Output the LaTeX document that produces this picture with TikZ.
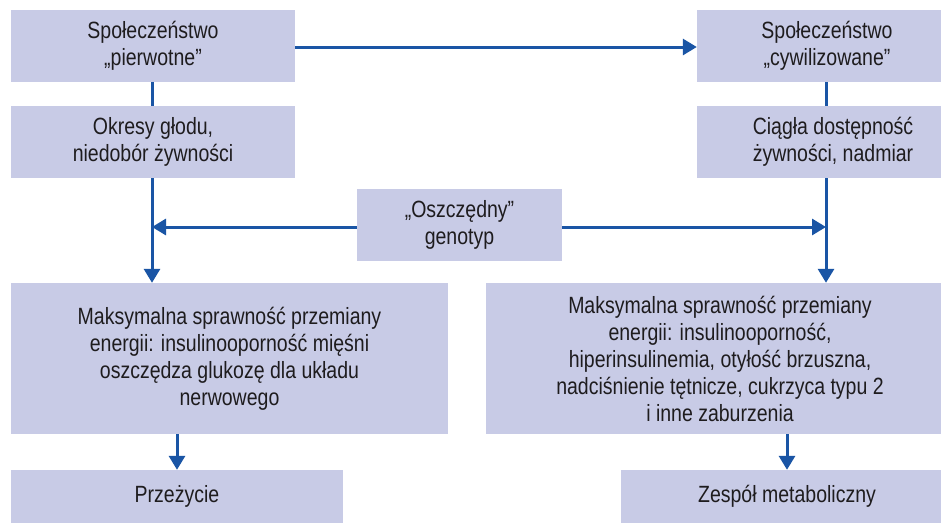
\documentclass[tikz,border=0pt]{standalone}
\usepackage{fontspec}
\setmainfont{Liberation Sans}[FakeStretch=0.83]
\usetikzlibrary{arrows.meta}
\definecolor{boxfill}{RGB}{200,203,230}
\definecolor{linkblue}{RGB}{26,85,165}
\definecolor{txt}{RGB}{30,28,30}
\tikzset{
  box/.style={fill=boxfill, draw=none, inner sep=0pt, align=center, text=txt,
    font=\fontsize{23.5}{27}\selectfont},
  link/.style={draw=linkblue, line width=3pt},
  arrowlink/.style={link, -{Triangle[width=16pt,length=14pt]}}
}
\begin{document}
\begin{tikzpicture}[x=1pt,y=-1pt]
\clip (0,0) rectangle (941,523);
\fill[white] (0,0) rectangle (941,523);
\node[box, minimum width=284pt, minimum height=72pt] (b1) at (153,46) {Społeczeństwo\\„pierwotne”};
\node[box, minimum width=260pt, minimum height=72pt] (b2) at (827,46) {Społeczeństwo\\„cywilizowane”};
\node[box, minimum width=284pt, minimum height=72pt] (b3) at (153,142) {Okresy głodu,\\niedobór żywności};
\node[box, minimum width=272pt, minimum height=72pt] (b4) at (833,142) {Ciągła dostępność\\żywności, nadmiar};
\node[box, minimum width=205pt, minimum height=72pt] (g) at (459.5,225) {„Oszczędny”\\genotyp};
\node[box, minimum width=437pt, minimum height=151pt] (b6) at (229.5,358.5) {Maksymalna sprawność przemiany\\energii: insulinooporność mięśni\\oszczędza glukozę dla układu\\nerwowego};
\node[box, minimum width=468pt, minimum height=151pt] (b7) at (720,358.5) {Maksymalna sprawność przemiany\\energii: insulinooporność,\\hiperinsulinemia, otyłość brzuszna,\\nadciśnienie tętnicze, cukrzyca typu 2\\i inne zaburzenia};
\node[box, minimum width=332pt, minimum height=53pt] (b8) at (177,496.5) {Przeżycie};
\node[box, minimum width=332pt, minimum height=53pt] (b9) at (787,496.5) {Zespół metaboliczny};
\coordinate (lx) at (152,0);
\coordinate (rx) at (826,0);
\draw[link] (b1.south -| lx) -- (b3.north -| lx);
\draw[arrowlink] (b3.south -| lx) -- (b6.north -| lx);
\draw[arrowlink] ([yshift=-1pt]b1.east) -- ([yshift=-1pt]b1.east -| b2.west);
\draw[link] (b2.south -| rx) -- (b4.north -| rx);
\draw[arrowlink] (b4.south -| rx) -- (b7.north -| rx);
\draw[arrowlink] ([yshift=-2pt]g.west) -- ([yshift=-2pt]g.west -| lx);
\draw[arrowlink] ([yshift=-2pt]g.east) -- ([yshift=-2pt]g.east -| rx);
\draw[arrowlink] (b6.south -| b8.north) -- (b8.north);
\draw[arrowlink] (b7.south -| b9.north) -- (b9.north);
\end{tikzpicture}
\end{document}
